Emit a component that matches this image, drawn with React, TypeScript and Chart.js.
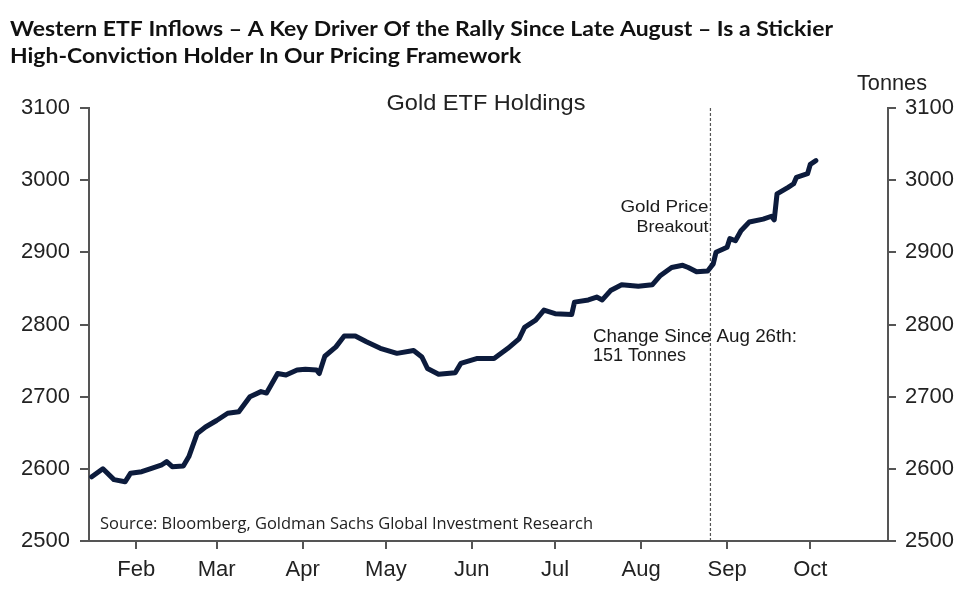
import React, { useEffect, useRef } from "react";
import Chart from "chart.js/auto";

// Day of year (2024, 1 = Jan 1) and Gold ETF holdings in tonnes
const dayOfYear = [16, 20, 24, 28, 30, 34, 37, 41, 43, 45, 49, 51, 54, 57, 61, 65, 69, 73, 77, 79, 83, 86, 90, 93, 97, 98, 100, 104, 107, 111, 115, 120, 126, 132, 135, 137, 141, 147, 149, 155, 161, 166, 170, 172, 176, 179, 183, 189, 190, 195, 198, 200, 203, 207, 213, 218, 221, 225, 229, 231, 234, 238, 240, 241, 245, 246, 248, 250, 253, 258, 261, 262, 263, 267, 269, 270, 274, 275, 277];
const holdings = [2589, 2600, 2585, 2582, 2594, 2596, 2600, 2605, 2610, 2603, 2604, 2617, 2649, 2658, 2667, 2677, 2679, 2700, 2707, 2705, 2732, 2730, 2737, 2738, 2737, 2732, 2756, 2769, 2784, 2784, 2776, 2767, 2760, 2764, 2755, 2739, 2731, 2733, 2746, 2753, 2753, 2767, 2780, 2796, 2806, 2820, 2815, 2814, 2831, 2834, 2838, 2834, 2847, 2855, 2853, 2855, 2868, 2879, 2882, 2879, 2873, 2874, 2884, 2900, 2907, 2919, 2916, 2930, 2942, 2946, 2950, 2945, 2981, 2990, 2995, 3004, 3009, 3022, 3027];

const monthTicks = [32, 61, 92, 122, 153, 183, 214, 245, 275];
const monthLabels = ["Feb", "Mar", "Apr", "May", "Jun", "Jul", "Aug", "Sep", "Oct"];
const xMin = 15;
const xMax = 303;
const yMin = 2500;
const yMax = 3100;
const yStep = 100;
const breakoutDay = 239;

const titleLines = [
  "Western ETF Inflows \u2013 A Key Driver Of the Rally Since Late August \u2013 Is a Stickier",
  "High-Conviction Holder In Our Pricing Framework",
];
const chartTitle = "Gold ETF Holdings";
const unitLabel = "Tonnes";
const breakoutLines = ["Gold Price", "Breakout"];
const changeLines = ["Change Since Aug 26th:", "151 Tonnes"];
const sourceText = "Source: Bloomberg, Goldman Sachs Global Investment Research";

const ARIAL = "'Liberation Sans', Arial, sans-serif";

function fitText(
  ctx: CanvasRenderingContext2D,
  text: string,
  x: number,
  y: number,
  font: string,
  width: number | null,
  align: CanvasTextAlign,
  scaleOverride?: number
) {
  ctx.save();
  ctx.font = font;
  const w = ctx.measureText(text).width;
  const s = scaleOverride ?? (width ? width / w : 1);
  ctx.translate(x, y);
  ctx.scale(s, 1);
  ctx.textAlign = align;
  ctx.textBaseline = "alphabetic";
  ctx.fillText(text, 0, 0);
  ctx.restore();
}

const overlayPlugin = {
  id: "overlay",
  beforeDatasetsDraw(chart: any) {
    const ctx: CanvasRenderingContext2D = chart.ctx;
    const { top, bottom } = chart.chartArea;
    const x = chart.scales.x.getPixelForValue(breakoutDay);
    ctx.save();
    ctx.strokeStyle = "#555";
    ctx.lineWidth = 1.2;
    ctx.setLineDash([3, 2]);
    ctx.beginPath();
    ctx.moveTo(x, top);
    ctx.lineTo(x, bottom);
    ctx.stroke();
    ctx.restore();
  },
  afterDraw(chart: any) {
    const ctx: CanvasRenderingContext2D = chart.ctx;
    const xLine = chart.scales.x.getPixelForValue(breakoutDay);
    ctx.save();
    ctx.fillStyle = "#111";
    const titleFont = "bold 21px Lato, 'Open Sans', sans-serif";
    ctx.font = titleFont;
    const s = 823 / ctx.measureText(titleLines[0]).width;
    fitText(ctx, titleLines[0], 10, 36, titleFont, null, "left", s);
    fitText(ctx, titleLines[1], 10, 63, titleFont, null, "left", s);

    ctx.fillStyle = "#222";
    fitText(ctx, chartTitle, 486, 110, `22px ${ARIAL}`, 199, "center");
    fitText(ctx, unitLabel, 892, 90, `22px ${ARIAL}`, 70, "center");

    ctx.fillStyle = "#1a1a1a";
    fitText(ctx, breakoutLines[0], xLine - 2, 212, `17px ${ARIAL}`, 88, "right");
    fitText(ctx, breakoutLines[1], xLine - 2, 232, `17px ${ARIAL}`, 72, "right");
    fitText(ctx, changeLines[0], 593, 342, `18px ${ARIAL}`, 204, "left");
    fitText(ctx, changeLines[1], 593, 361, `18px ${ARIAL}`, null, "left");

    ctx.fillStyle = "#222";
    fitText(ctx, sourceText, 100, 529, "16px 'Open Sans', sans-serif", 493, "left");
    ctx.restore();
  },
};

export default function App() {
  const canvasRef = useRef<HTMLCanvasElement | null>(null);

  useEffect(() => {
    document.body.style.margin = "0";
    document.body.style.background = "#fff";
    const canvas = canvasRef.current;
    if (!canvas) return;
    const points = dayOfYear.map((d, i) => ({ x: d, y: holdings[i] }));
    const tickFont = { family: ARIAL, size: 22 };
    const axisColor = "#555";
    const plainNumber = (v: any) => String(v);

    const chart = new Chart(canvas, {
      type: "line",
      data: {
        datasets: [
          {
            label: "Gold ETF Holdings",
            data: points,
            borderColor: "#0c1b3c",
            borderWidth: 5,
            pointRadius: 0,
            tension: 0,
            borderJoinStyle: "round",
            borderCapStyle: "round",
            yAxisID: "y",
          },
        ],
      },
      options: {
        responsive: false,
        animation: false,
        layout: { padding: { top: 108, left: 0, right: 0, bottom: 0 } },
        plugins: {
          legend: { display: false },
          tooltip: { enabled: false },
          title: { display: false },
        },
        scales: {
          x: {
            type: "linear",
            min: xMin,
            max: xMax,
            afterBuildTicks: (scale: any) => {
              scale.ticks = monthTicks.map((v) => ({ value: v }));
            },
            afterFit: (scale: any) => {
              scale.height = 54;
            },
            ticks: {
              autoSkip: false,
              maxRotation: 0,
              padding: 8,
              color: "#222",
              font: tickFont,
              callback: (_v: any, i: number) => monthLabels[i],
            },
            grid: {
              drawOnChartArea: false,
              drawTicks: true,
              tickLength: 8,
              color: axisColor,
              lineWidth: 2,
            },
            border: { display: true, color: axisColor, width: 2 },
          },
          y: {
            position: "left",
            min: yMin,
            max: yMax,
            afterFit: (scale: any) => {
              scale.width = 89;
            },
            ticks: { stepSize: yStep, padding: 10, color: "#222", font: tickFont, callback: plainNumber },
            grid: {
              drawOnChartArea: false,
              drawTicks: true,
              tickLength: 9,
              color: axisColor,
              lineWidth: 2,
            },
            border: { display: true, color: axisColor, width: 2 },
          },
          y2: {
            position: "right",
            min: yMin,
            max: yMax,
            afterFit: (scale: any) => {
              scale.width = 82;
            },
            ticks: { stepSize: yStep, padding: 9, color: "#222", font: tickFont, callback: plainNumber },
            grid: {
              drawOnChartArea: false,
              drawTicks: true,
              tickLength: 8,
              color: axisColor,
              lineWidth: 2,
            },
            border: { display: true, color: axisColor, width: 2 },
          },
        },
      } as any,
      plugins: [overlayPlugin],
    });
    return () => chart.destroy();
  }, []);

  return (
    <div style={{ width: 970, height: 595, background: "#fff" }}>
      <canvas ref={canvasRef} width={970} height={595} style={{ display: "block" }} />
    </div>
  );
}
